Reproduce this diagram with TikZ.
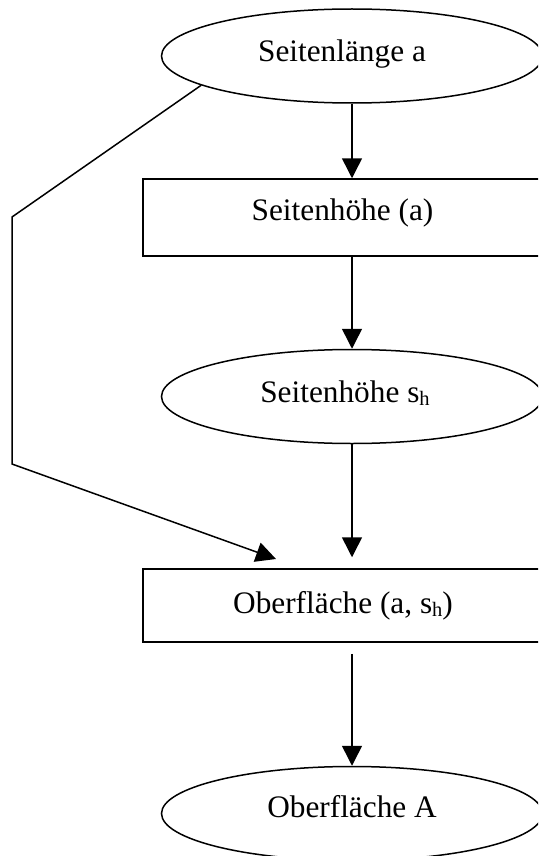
\documentclass[tikz,border=0pt]{standalone}
\usepackage{fontspec}
\setmainfont{Liberation Serif}
\usetikzlibrary{shapes.geometric,arrows.meta}
\newcommand\mysubh{{\fontsize{20.5}{20}\selectfont\raisebox{-3pt}{h}}}
\begin{document}
\begin{tikzpicture}[x=1pt,y=-1pt,
  line width=1.5pt,
  every node/.style={font=\fontsize{31.3}{36}\selectfont, inner sep=0pt},
  oval/.style={draw, ellipse, minimum width=381pt, minimum height=94pt, text height=21pt},
  box/.style={draw, rectangle, minimum width=418pt, text height=21pt},
  arr/.style={-{Triangle[length=20pt,width=20pt]}},
]
\useasboundingbox (0,0) rectangle (538,856);
\clip (0,0) rectangle (538,856);

\node[oval, text depth=9pt] (e1) at (352,56) {Seitenlänge a\hspace*{20pt}};
\node[box, minimum height=77pt, text depth=16pt] (r1) at (352,217.5) {Seitenhöhe (a)\hspace*{19pt}};
\node[oval, text depth=10pt] (e2) at (352,396.5) {Seitenhöhe s\mysubh\hspace*{14pt}};
\node[box, minimum height=73pt, text depth=6pt] (r2) at (352,605.5) {Oberfläche (a, s\mysubh)\hspace*{18pt}};
\node[oval, text depth=14pt] (e3) at (352,813.5) {Oberfläche A};

\coordinate (c1) at (12,217);
\coordinate (c2) at (12,464);
\coordinate (t) at (276,559);

\draw[arr] (e1) -- (r1);
\draw[arr] (r1) -- (e2);
\draw[arr, shorten >=11pt] (e2) -- (r2);
\draw[arr, shorten <=11pt] (r2) -- (e3);
\draw[arr] (e1.191) -- (c1) -- (c2) -- (t);
\end{tikzpicture}
\end{document}
